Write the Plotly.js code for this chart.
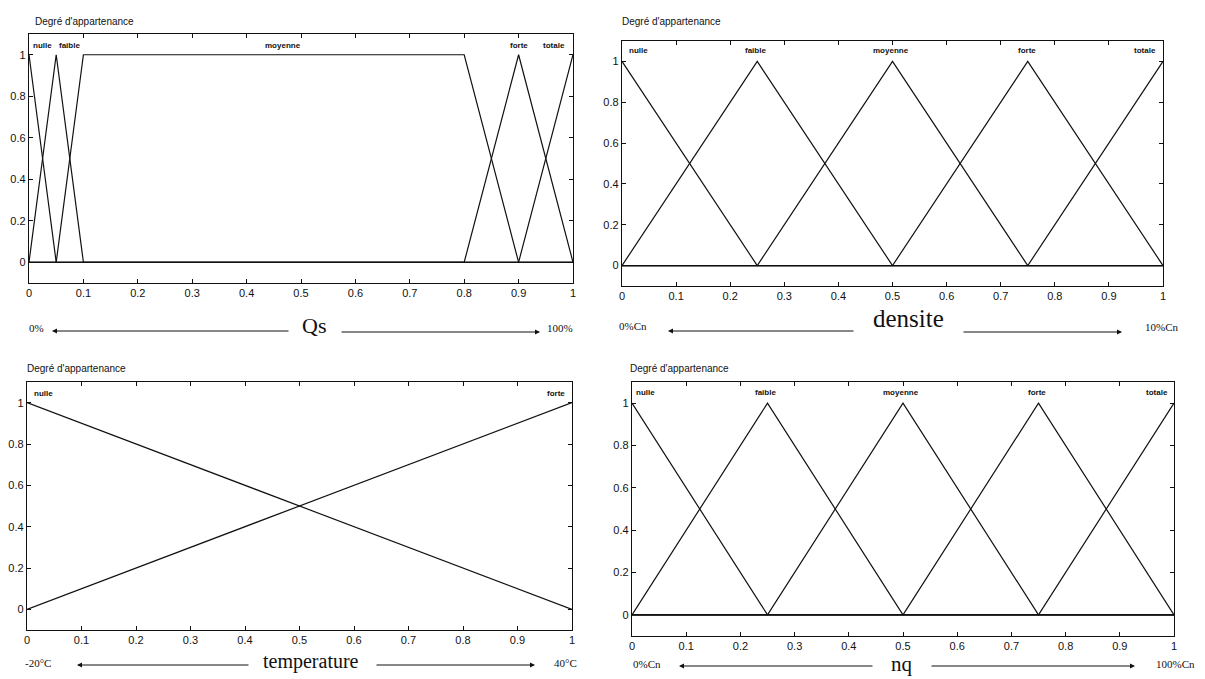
<!DOCTYPE html>
<html><head><meta charset="utf-8">
<script src="https://cdn.plot.ly/plotly-3.0.1.min.js"></script>
<style>html,body{margin:0;padding:0;background:#fff}#chart{width:1205px;height:679px}</style>
</head><body><div id="chart"></div>
<script>
// ---- Data ----
const mfNames5 = ["nulle", "faible", "moyenne", "forte", "totale"];
const mfNames2 = ["nulle", "forte"];

// Qs membership functions
const qsNulleX = [0, 0.05, 1],                 qsNulleY = [1, 0, 0];
const qsFaibleX = [0, 0.05, 0.1, 1],           qsFaibleY = [0, 1, 0, 0];
const qsMoyenneX = [0, 0.05, 0.1, 0.8, 0.9, 1], qsMoyenneY = [0, 0, 1, 1, 0, 0];
const qsForteX = [0, 0.8, 0.9, 1],             qsForteY = [0, 0, 1, 0];
const qsTotaleX = [0, 0.9, 1],                 qsTotaleY = [0, 0, 1];

// densite membership functions
const deNulleX = [0, 0.25, 1],               deNulleY = [1, 0, 0];
const deFaibleX = [0, 0.25, 0.5, 1],         deFaibleY = [0, 1, 0, 0];
const deMoyenneX = [0, 0.25, 0.5, 0.75, 1],  deMoyenneY = [0, 0, 1, 0, 0];
const deForteX = [0, 0.5, 0.75, 1],          deForteY = [0, 0, 1, 0];
const deTotaleX = [0, 0.75, 1],              deTotaleY = [0, 0, 1];

// temperature membership functions
const teNulleX = [0, 1], teNulleY = [1, 0];
const teForteX = [0, 1], teForteY = [0, 1];

// nq membership functions
const nqNulleX = [0, 0.25, 1],               nqNulleY = [1, 0, 0];
const nqFaibleX = [0, 0.25, 0.5, 1],         nqFaibleY = [0, 1, 0, 0];
const nqMoyenneX = [0, 0.25, 0.5, 0.75, 1],  nqMoyenneY = [0, 0, 1, 0, 0];
const nqForteX = [0, 0.5, 0.75, 1],          nqForteY = [0, 0, 1, 0];
const nqTotaleX = [0, 0.75, 1],              nqTotaleY = [0, 0, 1];

// label x-positions (data units)
const qsLabelX = [0.024, 0.075, 0.467, 0.9, 0.965];
const deLabelX = [0.031, 0.246, 0.497, 0.749, 0.967];
const teLabelX = [0.03, 0.97];
const nqLabelX = [0.024, 0.247, 0.496, 0.747, 0.969];

const yTitle = "Degré d'appartenance";
const xTickVals = [0, 0.1, 0.2, 0.3, 0.4, 0.5, 0.6, 0.7, 0.8, 0.9, 1];
const xTickText = ["0", "0.1", "0.2", "0.3", "0.4", "0.5", "0.6", "0.7", "0.8", "0.9", "1"];
const yTickVals = [0, 0.2, 0.4, 0.6, 0.8, 1];
const yTickText = ["0", "0.2", "0.4", "0.6", "0.8", "1"];

// ---- Build ----
const W = 1205, H = 679;
const px = v => v / W, py = v => 1 - v / H;
const lineStyle = {color: '#111', width: 1.2};

function tr(x, y, ax) {
  return {x: x, y: y, mode: 'lines', line: lineStyle, xaxis: 'x' + ax, yaxis: 'y' + ax, hoverinfo: 'skip', showlegend: false};
}
const data = [
  tr(qsNulleX, qsNulleY, ''), tr(qsFaibleX, qsFaibleY, ''), tr(qsMoyenneX, qsMoyenneY, ''), tr(qsForteX, qsForteY, ''), tr(qsTotaleX, qsTotaleY, ''),
  tr(deNulleX, deNulleY, 2), tr(deFaibleX, deFaibleY, 2), tr(deMoyenneX, deMoyenneY, 2), tr(deForteX, deForteY, 2), tr(deTotaleX, deTotaleY, 2),
  tr(teNulleX, teNulleY, 3), tr(teForteX, teForteY, 3),
  tr(nqNulleX, nqNulleY, 4), tr(nqFaibleX, nqFaibleY, 4), tr(nqMoyenneX, nqMoyenneY, 4), tr(nqForteX, nqForteY, 4), tr(nqTotaleX, nqTotaleY, 4)
];

const tickFont = {family: 'Liberation Sans, Arial, sans-serif', size: 11, color: '#111'};
function xa(dom, anchor) {
  return {domain: dom, anchor: anchor, range: [0, 1], tickvals: xTickVals, ticktext: xTickText,
    ticks: 'inside', ticklen: 4, tickcolor: '#111', showline: true, linecolor: '#111', linewidth: 1.2,
    mirror: 'ticks', showgrid: false, zeroline: false, tickfont: tickFont, fixedrange: true};
}
function ya(dom, anchor) {
  return {domain: dom, anchor: anchor, range: [-0.1, 1.1], tickvals: yTickVals, ticktext: yTickText,
    ticks: 'inside', ticklen: 4, tickcolor: '#111', showline: true, linecolor: '#111', linewidth: 1.2,
    mirror: 'ticks', showgrid: false, zeroline: false, tickfont: tickFont, fixedrange: true};
}

const annotations = [];
function mfLabels(names, xs, ax, yv) {
  names.forEach((n, i) => annotations.push({
    text: n, x: xs[i], y: yv, xref: 'x' + ax, yref: 'y' + ax, showarrow: false,
    font: {family: 'Liberation Sans, Arial, sans-serif', size: 8, color: '#111', weight: 'bold'}
  }));
}
mfLabels(mfNames5, qsLabelX, '', 1.045);
mfLabels(mfNames5, deLabelX, 2, 1.055);
mfLabels(mfNames2, teLabelX, 3, 1.045);
mfLabels(mfNames5, nqLabelX, 4, 1.05);

function txt(t, x, y, size, family, anchor) {
  annotations.push({text: t, x: px(x), y: py(y), xref: 'paper', yref: 'paper', showarrow: false,
    xanchor: anchor || 'center', yanchor: 'middle',
    font: {family: family || 'Liberation Serif, Times New Roman, serif', size: size, color: '#111'}});
}
function arrow(x0, x1, y) { // tail x0 -> head x1
  annotations.push({text: '', x: px(x1), y: py(y), ax: px(x0), ay: py(y), xref: 'paper', yref: 'paper',
    axref: 'paper', ayref: 'paper', showarrow: true, arrowhead: 2, arrowsize: 1, arrowwidth: 1, arrowcolor: '#111'});
}
// Y titles
const sans = 'Liberation Sans, Arial, sans-serif';
txt(yTitle, 33, 21, 10, sans, 'left');
txt(yTitle, 620, 22, 10, sans, 'left');
txt(yTitle, 25, 368, 10, sans, 'left');
txt(yTitle, 628, 368, 10, sans, 'left');

// bottom axis captions
txt('0%', 27, 328, 11, null, 'left');
arrow(290, 52, 331);
txt('Qs', 314, 325, 22);
arrow(340, 540, 332);
txt('100%', 545, 328, 11, null, 'left');

txt('0%Cn', 617, 326, 11, null, 'left');
arrow(855, 668, 331);
txt('densite', 908, 318, 25);
arrow(962, 1122, 332);
txt('10%Cn', 1143, 327, 11, null, 'left');

txt('-20°C', 23, 663, 11, null, 'left');
arrow(250, 77, 665);
txt('temperature', 311, 661, 20);
arrow(375, 535, 665);
txt('40°C', 552, 663, 11, null, 'left');

txt('0%Cn', 631, 664, 11, null, 'left');
arrow(874, 679, 666);
txt('nq', 902, 664, 21);
arrow(930, 1135, 666);
txt('100%Cn', 1154, 664, 11, null, 'left');

const layout = {
  width: W, height: H, margin: {l: 0, r: 0, t: 0, b: 0}, paper_bgcolor: '#fff', plot_bgcolor: '#fff',
  showlegend: false,
  xaxis: xa([px(29), px(573)], 'y'),   yaxis: ya([py(283), py(34)], 'x'),
  xaxis2: xa([px(622), px(1163)], 'y2'), yaxis2: ya([py(286), py(41)], 'x2'),
  xaxis3: xa([px(27), px(572)], 'y3'),   yaxis3: ya([py(630), py(382)], 'x3'),
  xaxis4: xa([px(632), px(1174)], 'y4'), yaxis4: ya([py(636), py(382)], 'x4'),
  annotations: annotations
};
Plotly.newPlot('chart', data, layout, {staticPlot: true, displayModeBar: false});
</script></body></html>
